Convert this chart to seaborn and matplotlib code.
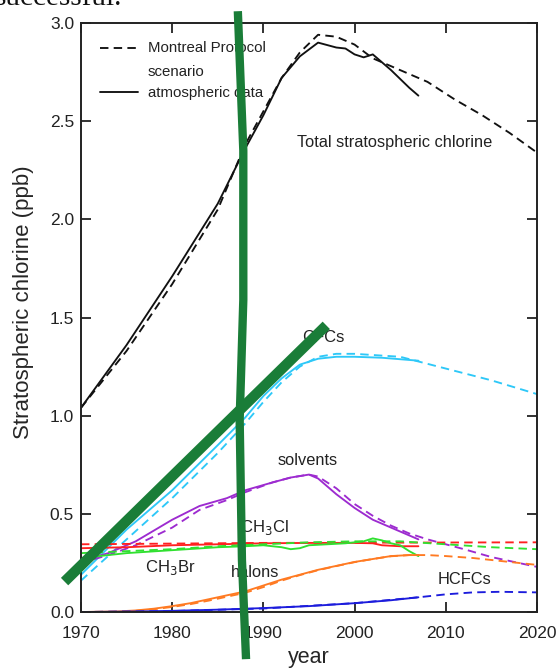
import matplotlib
matplotlib.use("Agg")
import matplotlib.pyplot as plt
import seaborn as sns
import numpy as np
import pandas as pd

# --- dati (ppb) ---
tot_sc_yr = [1970, 1975, 1980, 1985, 1988, 1990, 1992, 1994, 1996, 1998, 2000, 2002, 2005, 2008, 2011, 2014, 2017, 2020]
tot_sc = [1.04, 1.33, 1.67, 2.05, 2.38, 2.55, 2.72, 2.85, 2.94, 2.93, 2.89, 2.82, 2.76, 2.70, 2.61, 2.53, 2.44, 2.34]
tot_obs_yr = [1970, 1975, 1980, 1985, 1988, 1990, 1992, 1994, 1996, 1998, 1999, 2000, 2001, 2002, 2004, 2006, 2007]
tot_obs = [1.04, 1.36, 1.71, 2.08, 2.36, 2.53, 2.72, 2.83, 2.90, 2.875, 2.87, 2.84, 2.825, 2.84, 2.76, 2.67, 2.63]

cfc_sc_yr = [1970, 1975, 1980, 1985, 1988, 1990, 1992, 1994, 1996, 1998, 2000, 2005, 2010, 2015, 2020]
cfc_sc = [0.16, 0.37, 0.58, 0.81, 0.96, 1.07, 1.17, 1.25, 1.30, 1.315, 1.315, 1.30, 1.24, 1.18, 1.11]
cfc_obs_yr = [1970, 1975, 1980, 1985, 1988, 1990, 1992, 1994, 1996, 1998, 2000, 2003, 2007]
cfc_obs = [0.19, 0.42, 0.62, 0.85, 0.99, 1.10, 1.19, 1.26, 1.29, 1.30, 1.30, 1.295, 1.28]

solv_sc_yr = [1970, 1973, 1976, 1980, 1983, 1986, 1988, 1991, 1993, 1995, 1996, 1998, 2000, 2002, 2004, 2006, 2008, 2010, 2012, 2015, 2018, 2020]
solv_sc = [0.25, 0.29, 0.34, 0.43, 0.52, 0.57, 0.61, 0.66, 0.685, 0.70, 0.69, 0.63, 0.55, 0.49, 0.44, 0.40, 0.37, 0.345, 0.32, 0.28, 0.25, 0.23]
solv_obs_yr = [1970, 1973, 1976, 1980, 1983, 1986, 1988, 1991, 1993, 1995, 1996, 1998, 2000, 2002, 2004, 2006, 2007]
solv_obs = [0.26, 0.30, 0.36, 0.47, 0.54, 0.58, 0.62, 0.66, 0.685, 0.70, 0.68, 0.60, 0.53, 0.47, 0.43, 0.39, 0.37]

ch3cl_sc_yr = [1970, 1990, 2020]
ch3cl_sc = [0.345, 0.352, 0.355]
ch3cl_obs_yr = [1970, 1975, 1980, 1985, 1990, 1995, 2000, 2002, 2003, 2005, 2007]
ch3cl_obs = [0.325, 0.33, 0.34, 0.345, 0.35, 0.352, 0.352, 0.35, 0.34, 0.335, 0.335]

ch3br_sc_yr = [1970, 1975, 1980, 1985, 1990, 1995, 2000, 2005, 2010, 2015, 2020]
ch3br_sc = [0.30, 0.31, 0.32, 0.335, 0.345, 0.355, 0.36, 0.36, 0.345, 0.33, 0.32]
ch3br_obs_yr = [1970, 1975, 1980, 1985, 1988, 1990, 1992, 1993, 1994, 1995, 1997, 1999, 2001, 2002, 2003, 2004, 2005, 2006, 2007]
ch3br_obs = [0.275, 0.30, 0.315, 0.33, 0.335, 0.34, 0.33, 0.32, 0.325, 0.34, 0.345, 0.35, 0.36, 0.375, 0.365, 0.35, 0.34, 0.31, 0.285]

halon_sc_yr = [1970, 1974, 1976, 1978, 1980, 1982, 1984, 1986, 1988, 1990, 1992, 1994, 1996, 1998, 2000, 2002, 2004, 2006, 2008, 2010, 2013, 2016, 2020]
halon_sc = [0.0, 0.002, 0.006, 0.014, 0.026, 0.04, 0.058, 0.078, 0.098, 0.127, 0.16, 0.188, 0.213, 0.234, 0.254, 0.27, 0.284, 0.29, 0.29, 0.285, 0.275, 0.26, 0.24]
halon_obs_yr = [1970, 1974, 1976, 1978, 1980, 1982, 1984, 1986, 1988, 1990, 1992, 1994, 1996, 1998, 2000, 2002, 2004, 2006, 2007]
halon_obs = [0.0, 0.003, 0.008, 0.017, 0.03, 0.045, 0.065, 0.085, 0.105, 0.135, 0.165, 0.19, 0.215, 0.235, 0.255, 0.27, 0.285, 0.29, 0.29]

hcfc_sc_yr = [1970, 1980, 1990, 2000, 2007, 2010, 2013, 2016, 2020]
hcfc_sc = [0.0, 0.005, 0.018, 0.045, 0.075, 0.09, 0.10, 0.103, 0.10]
hcfc_obs_yr = [1970, 1975, 1980, 1985, 1990, 1995, 2000, 2004, 2007]
hcfc_obs = [0.0, 0.002, 0.006, 0.012, 0.02, 0.03, 0.045, 0.06, 0.075]

# segni verdi a mano sopra la figura
mark_v_yr = [1987.2, 1987.8, 1987.8, 1987.4, 1987.65, 1988.1]
mark_v = [3.06, 2.35, 1.59, 0.98, 0.265, -0.24]
mark_d_yr = [1968.2, 1996.9]
mark_d = [0.155, 1.46]

series = [
    ("total", "#111111", tot_sc_yr, tot_sc, tot_obs_yr, tot_obs),
    ("CFCs", "#2ec8f8", cfc_sc_yr, cfc_sc, cfc_obs_yr, cfc_obs),
    ("solvents", "#9d2bd0", solv_sc_yr, solv_sc, solv_obs_yr, solv_obs),
    ("CH3Cl", "#ff2020", ch3cl_sc_yr, ch3cl_sc, ch3cl_obs_yr, ch3cl_obs),
    ("CH3Br", "#30e030", ch3br_sc_yr, ch3br_sc, ch3br_obs_yr, ch3br_obs),
    ("halons", "#ff7a22", halon_sc_yr, halon_sc, halon_obs_yr, halon_obs),
    ("HCFCs", "#1c1cdc", hcfc_sc_yr, hcfc_sc, hcfc_obs_yr, hcfc_obs),
]

sns.set_theme(style="ticks")
plt.rcParams.update({
    "font.family": ["Liberation Sans", "DejaVu Sans"],
    "xtick.direction": "in",
    "ytick.direction": "in",
})

fig = plt.figure(figsize=(5.57, 6.68), dpi=100)
ax = fig.add_axes([0.1454, 0.0838, 0.8186, 0.8818])

DASH = (0, (4.5, 2.8))
for name, col, sy, sv, oy, ov in series:
    sns.lineplot(x=sy, y=sv, ax=ax, color=col, linewidth=1.35, linestyle=DASH,
                 estimator=None, sort=False)
    sns.lineplot(x=oy, y=ov, ax=ax, color=col, linewidth=1.35, estimator=None, sort=False)

ax.set_xlim(1970, 2020)
ax.set_ylim(0, 3.0)
ax.set_xticks([1970, 1980, 1990, 2000, 2010, 2020])
ax.set_yticks(np.arange(0, 3.01, 0.5))
ax.set_yticklabels([f"{v:.1f}" for v in np.arange(0, 3.01, 0.5)])
ax.tick_params(axis="both", which="major", labelsize=12.5, length=7, width=1.3,
               top=True, right=True, colors="#222222")
ax.tick_params(axis="x", pad=10)
ax.tick_params(axis="y", pad=5)
for sp in ax.spines.values():
    sp.set_linewidth(1.4)
    sp.set_color("#222222")
ax.set_xlabel("year", fontsize=15.5, labelpad=4.5)
ax.set_ylabel("Stratospheric chlorine (ppb)", fontsize=16)
ax.yaxis.set_label_coords(-0.104, 0.526)

# legenda disegnata a mano come nell'originale
ax.plot([1972.1, 1976.3], [2.873, 2.873], color="#111111", lw=1.35, linestyle=DASH)
ax.plot([1972.1, 1976.3], [2.65, 2.65], color="#111111", lw=1.35)
leg = dict(fontsize=10.8, va="center", ha="left", color="#222222")
ax.text(1977.3, 2.873, "Montreal Protocol", **leg)
ax.text(1977.3, 2.751, "scenario", **leg)
ax.text(1977.3, 2.644, "atmospheric data", **leg)

lab = dict(color="#222222", va="center", ha="left")
ax.text(1993.7, 2.39, "Total stratospheric chlorine", fontsize=11.8, **lab)
ax.text(1994.3, 1.40, "CFCs", fontsize=12, **lab)
ax.text(1991.6, 0.77, "solvents", fontsize=11.8, **lab)
ax.text(1987.4, 0.43, "CH$_3$Cl", fontsize=12, **lab)
ax.text(1977.0, 0.225, "CH$_3$Br", fontsize=12, **lab)
ax.text(1986.4, 0.20, "halons", fontsize=11.8, **lab)
ax.text(2009.1, 0.165, "HCFCs", fontsize=11.8, **lab)

# segni verdi
ax.plot(mark_v_yr, mark_v, color="#1a7d38", lw=6, solid_capstyle="butt", clip_on=False, zorder=10)
ax.plot(mark_d_yr, mark_d, color="#1a7d38", lw=7.5, solid_capstyle="butt", clip_on=False, zorder=10)

fig.text(-0.01, 1 - 5 / 668, "successful.", fontsize=21, family="Liberation Serif",
         va="baseline", ha="left", color="#111111")

fig.savefig("out.png", dpi=100)
